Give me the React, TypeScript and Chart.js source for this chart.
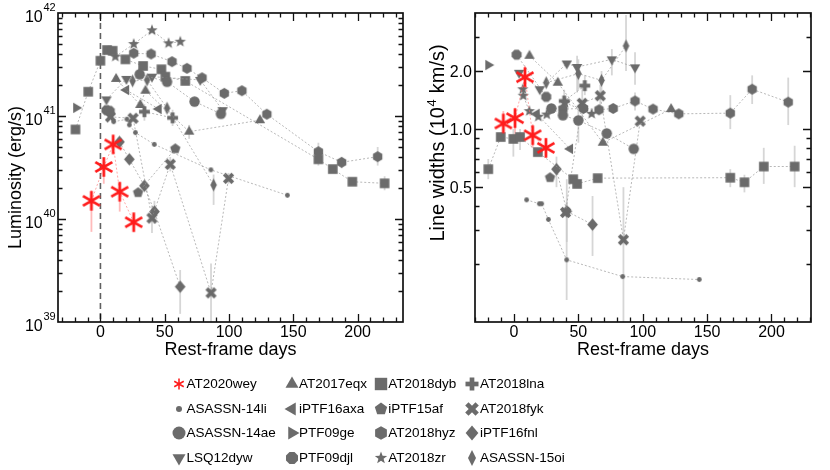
import Chart from "chart.js/auto";
import { useEffect, useRef } from "react";

type Pt = [number, number];
type Err = [string, number, number, number];
type Shape =
  | "asterisk" | "dot" | "circle" | "triDown" | "triUp" | "triLeft" | "triRight" | "octagon"
  | "square" | "pentagon" | "hexagon" | "star" | "plus" | "cross" | "diamond" | "thinDiamond";

const FONT = '"Liberation Sans", Arial, Helvetica, sans-serif';
const MARK = "#6b6b6b";
const RED = "#ff1c1c";

// ---- luminosity (erg/s) vs rest-frame days ----
const L_AT2020wey: Pt[] = [[-7, 1.5e40], [2.6, 3.2e40], [9.9, 5.3e40], [15, 1.84e40], [25.9, 9.3e39]];
const L_ASASSN14li: Pt[] = [[10.3, 8.8e40], [20.6, 9.3e40], [22.5, 8.2e40], [27.2, 6.9e40], [41.9, 5.3e40], [85.9, 3.0e40], [145.4, 1.7e40]];
const L_ASASSN14ae: Pt[] = [[30.5, 2.54e41], [51.8, 2.15e41], [73.2, 1.38e41], [93.7, 1.05e41]];
const L_LSQ12dyw: Pt[] = [[4.7, 1.45e41], [20.2, 2.29e41], [40.1, 2.41e41], [77.6, 2.24e41], [95, 1.14e41]];
const L_AT2017eqx: Pt[] = [[12.2, 2.29e41], [31, 1.28e41], [35, 1.76e41], [69, 7.05e40], [124, 9.1e40]];
const L_iPTF16axa: Pt[] = [[20, 1.79e41], [45.3, 1.17e41]];
const L_PTF09ge: Pt[] = [[-18.9, 1.2e41]];
const L_PTF09djl: Pt[] = [[4.7, 1.14e41], [7.2, 1.12e41]];
const L_AT2018dyb: Pt[] = [[-19.4, 7.4e40], [-9.5, 1.72e41], [0, 3.44e41], [5.2, 4.37e41], [9.5, 4.3e41], [19.4, 3.55e41], [33.2, 3.06e41], [47.4, 2.84e41], [50.5, 2.41e41], [66, 2.19e41], [169.5, 3.8e40], [180.7, 3.05e40], [195.9, 2.3e40], [221, 2.22e40]];
const L_iPTF15af: Pt[] = [[29.3, 1.8e40], [58.2, 4.8e40]];
const L_AT2018hyz: Pt[] = [[25.9, 4.07e41], [39.4, 4.0e41], [55.7, 3.37e41], [67.3, 2.9e41], [79, 2.35e41], [96.3, 1.66e41], [110, 1.76e41], [129.4, 1.04e41], [169.5, 4.5e40], [187.6, 3.55e40], [215.6, 4.03e40]];
const L_AT2018zr: Pt[] = [[11.6, 3.77e41], [25.9, 5.0e41], [40.1, 6.8e41], [53, 5.08e41], [62.1, 5.26e41]];
const L_AT2018lna: Pt[] = [[34.2, 1.1e41], [56.1, 9.6e40]];
const L_AT2018fyk: Pt[] = [[7.8, 9.8e40], [25.4, 9.5e40], [40.1, 1.02e40], [54.3, 3.4e40], [86, 1.92e39], [99.6, 2.48e40]];
const L_iPTF16fnl: Pt[] = [[14.8, 5.6e40], [22.5, 3.8e40], [34.2, 2.1e40], [42, 1.18e40], [62, 2.2e39]];
const L_ASASSN15oi: Pt[] = [[25, 2.19e41], [36.3, 2.24e41], [51.8, 1.19e41], [88, 2.14e40]];

// [name, day, low, high]
const lumErrors: Err[] = [
  ["AT2020wey", -7, 7.5e39, 1.9e40], ["AT2020wey", 2.6, 2.2e40, 4.0e40], ["AT2020wey", 9.9, 4.6e40, 6.0e40],
  ["AT2020wey", 15, 1.18e40, 2.3e40], ["AT2020wey", 25.9, 7.6e39, 1.1e40],
  ["iPTF16fnl", 62, 1.2e39, 3.2e39], ["iPTF16fnl", 42, 9e39, 1.5e40],
  ["AT2018fyk", 86, 1e39, 3.7e39], ["AT2018fyk", 40.1, 7.3e39, 1.35e40], ["AT2018fyk", 54.3, 2.9e40, 4e40], ["AT2018fyk", 99.6, 2.2e40, 2.8e40],
  ["ASASSN-15oi", 88, 1.37e40, 2.7e40],
  ["AT2018lna", 34.2, 9e40, 1.3e41], ["AT2018lna", 56.1, 8e40, 1.15e41],
  ["AT2017eqx", 69, 6e40, 8.2e40],
  ["AT2018hyz", 169.5, 3.8e40, 5.5e40], ["AT2018hyz", 187.6, 3.1e40, 4.0e40], ["AT2018hyz", 215.6, 3.3e40, 5e40],
  ["AT2018dyb", 169.5, 3.3e40, 4.4e40], ["AT2018dyb", 221, 1.9e40, 2.6e40],
];

// ---- line widths (10^4 km/s) vs rest-frame days ----
const V_AT2020wey: Pt[] = [[-8.3, 1.07], [0.8, 1.14], [8.5, 1.86], [14.5, 0.93], [24.8, 0.8]];
const V_ASASSN14li: Pt[] = [[9.8, 0.43], [19.7, 0.41], [21.5, 0.41], [26.7, 0.34], [40.9, 0.21], [84.4, 0.172], [143.9, 0.166]];
const V_ASASSN14ae: Pt[] = [[29, 1.28], [38, 1.18], [50, 1.11], [72, 0.95], [93, 0.79]];
const V_LSQ12dyw: Pt[] = [[4, 1.96], [20, 1.61], [41, 2.19], [49, 2.1], [76, 2.3], [94, 2.09]];
const V_AT2017eqx: Pt[] = [[12, 2.4], [34, 1.74], [69, 0.85], [122, 1.27]];
const V_iPTF16axa: Pt[] = [[17.6, 1.2], [43.5, 0.79]];
const V_PTF09ge: Pt[] = [[-20, 2.15]];
const V_PTF09djl: Pt[] = [[2, 2.43], [25, 1.47]];
const V_AT2018dyb: Pt[] = [[-20, 0.62], [-10.3, 0.91], [-0.5, 0.89], [4.7, 0.91], [18.5, 0.76], [46, 0.55], [49, 0.52], [65, 0.557], [168, 0.56], [179, 0.53], [194, 0.64], [218, 0.64]];
const V_iPTF15af: Pt[] = [[28, 0.56]];
const V_AT2018hyz: Pt[] = [[38, 1.27], [54, 1.28], [66, 1.26], [77, 1.28], [94, 1.4], [108, 1.27], [128, 1.2], [168, 1.21], [185, 1.61], [213, 1.38]];
const V_AT2018zr: Pt[] = [[6.8, 1.61], [7.2, 1.49], [11.9, 1.24], [18.9, 1.16], [25.4, 1.19], [39.6, 1.37], [60.3, 1.2]];
const V_AT2018lna: Pt[] = [[39, 1.4], [55, 1.68]];
const V_AT2018fyk: Pt[] = [[40, 0.37], [53, 1.36], [67, 1.49], [85, 0.267], [98, 1.1]];
const V_iPTF16fnl: Pt[] = [[33, 0.62], [41, 0.375], [61, 0.32]];
const V_ASASSN15oi: Pt[] = [[25, 1.74], [50, 1.94], [68, 1.79], [87, 2.7]];

const velErrors: Err[] = [
  ["AT2020wey", -8.3, 0.87, 1.24], ["AT2020wey", 0.8, 0.89, 1.29], ["AT2020wey", 8.5, 1.62, 2.13],
  ["AT2020wey", 14.5, 0.8, 1.06], ["AT2020wey", 24.8, 0.71, 0.9],
  ["ASASSN-14li", 40.9, 0.13, 0.42], ["AT2018fyk", 85, 0.1, 0.5], ["AT2018fyk", 53, 1.1, 1.7], ["AT2018fyk", 67, 1.3, 1.7],
  ["iPTF16fnl", 61, 0.22, 0.45], ["iPTF16fnl", 41, 0.26, 0.55], ["iPTF16fnl", 33, 0.5, 0.72],
  ["ASASSN-15oi", 87, 2.0, 3.9], ["ASASSN-15oi", 50, 1.6, 2.3], ["ASASSN-15oi", 68, 1.55, 2.0],
  ["LSQ12dyw", 94, 1.7, 2.5], ["LSQ12dyw", 76, 1.9, 2.6], ["LSQ12dyw", 49, 1.55, 2.4],
  ["AT2018hyz", 168, 1.0, 1.5], ["AT2018hyz", 185, 1.35, 1.9], ["AT2018hyz", 213, 1.05, 1.85], ["AT2018hyz", 94, 1.25, 1.55],
  ["AT2018dyb", 194, 0.52, 0.8], ["AT2018dyb", 218, 0.5, 0.82], ["AT2018dyb", -20, 0.55, 0.7],
  ["AT2018dyb", 168, 0.5, 0.62], ["AT2018dyb", 179, 0.47, 0.58], ["AT2018dyb", -0.5, 0.72, 1.0], ["AT2018dyb", 4.7, 0.78, 1.0],
  ["ASASSN-14ae", 50, 0.85, 1.3], ["AT2018lna", 39, 1.2, 1.6], ["AT2018lna", 55, 1.5, 1.9],
];

// ticks
const dayTicks = [0, 50, 100, 150, 200];
const lumExponents = [39, 40, 41, 42];
const velTickValues = [0.5, 1, 2];
const velTickLabels = ["0.5", "1.0", "2.0"];
const velMinorTicks = [0.2, 0.3, 0.4, 0.6, 0.7, 0.8, 0.9, 3];

const SERIES: { name: string; shape: Shape; lum: Pt[]; vel: Pt[] }[] = [
  { name: "AT2020wey", shape: "asterisk", lum: L_AT2020wey, vel: V_AT2020wey },
  { name: "ASASSN-14li", shape: "dot", lum: L_ASASSN14li, vel: V_ASASSN14li },
  { name: "ASASSN-14ae", shape: "circle", lum: L_ASASSN14ae, vel: V_ASASSN14ae },
  { name: "LSQ12dyw", shape: "triDown", lum: L_LSQ12dyw, vel: V_LSQ12dyw },
  { name: "AT2017eqx", shape: "triUp", lum: L_AT2017eqx, vel: V_AT2017eqx },
  { name: "iPTF16axa", shape: "triLeft", lum: L_iPTF16axa, vel: V_iPTF16axa },
  { name: "PTF09ge", shape: "triRight", lum: L_PTF09ge, vel: V_PTF09ge },
  { name: "PTF09djl", shape: "octagon", lum: L_PTF09djl, vel: V_PTF09djl },
  { name: "AT2018dyb", shape: "square", lum: L_AT2018dyb, vel: V_AT2018dyb },
  { name: "iPTF15af", shape: "pentagon", lum: L_iPTF15af, vel: V_iPTF15af },
  { name: "AT2018hyz", shape: "hexagon", lum: L_AT2018hyz, vel: V_AT2018hyz },
  { name: "AT2018zr", shape: "star", lum: L_AT2018zr, vel: V_AT2018zr },
  { name: "AT2018lna", shape: "plus", lum: L_AT2018lna, vel: V_AT2018lna },
  { name: "AT2018fyk", shape: "cross", lum: L_AT2018fyk, vel: V_AT2018fyk },
  { name: "iPTF16fnl", shape: "diamond", lum: L_iPTF16fnl, vel: V_iPTF16fnl },
  { name: "ASASSN-15oi", shape: "thinDiamond", lum: L_ASASSN15oi, vel: V_ASASSN15oi },
];

const CHART_R: Record<Shape, number> = {
  asterisk: 9.8, dot: 2.4, circle: 5.2, triDown: 6, triUp: 6, triLeft: 6, triRight: 6, octagon: 5.4,
  square: 4.8, pentagon: 5.4, hexagon: 5.4, star: 6, plus: 5.4, cross: 5.4, diamond: 6.3, thinDiamond: 6.5,
};
const LEGEND_R: Record<Shape, number> = {
  asterisk: 5.5, dot: 3, circle: 6.5, triDown: 7.5, triUp: 7.5, triLeft: 7.5, triRight: 7.5, octagon: 6.5,
  square: 6.2, pentagon: 6.5, hexagon: 6.8, star: 6.5, plus: 6.5, cross: 6.5, diamond: 7.5, thinDiamond: 8,
};

function polygon(ctx: CanvasRenderingContext2D, cx: number, cy: number, r: number, n: number, rot: number) {
  ctx.beginPath();
  for (let i = 0; i < n; i++) {
    const a = rot + (i * 2 * Math.PI) / n;
    const x = cx + r * Math.cos(a);
    const y = cy + r * Math.sin(a);
    if (i) ctx.lineTo(x, y);
    else ctx.moveTo(x, y);
  }
  ctx.closePath();
  ctx.fill();
}

function drawShape(ctx: CanvasRenderingContext2D, shape: Shape, cx: number, cy: number, r: number) {
  ctx.fillStyle = MARK;
  ctx.strokeStyle = MARK;
  switch (shape) {
    case "asterisk": {
      ctx.strokeStyle = RED;
      ctx.lineWidth = Math.max(1.5, r * 0.28);
      ctx.beginPath();
      for (const deg of [90, 30, 150]) {
        const a = (deg * Math.PI) / 180;
        ctx.moveTo(cx - r * Math.cos(a), cy - r * Math.sin(a));
        ctx.lineTo(cx + r * Math.cos(a), cy + r * Math.sin(a));
      }
      ctx.stroke();
      break;
    }
    case "dot":
    case "circle":
      ctx.beginPath();
      ctx.arc(cx, cy, r, 0, Math.PI * 2);
      ctx.fill();
      break;
    case "triUp":
      polygon(ctx, cx, cy, r, 3, -Math.PI / 2);
      break;
    case "triDown":
      polygon(ctx, cx, cy, r, 3, Math.PI / 2);
      break;
    case "triLeft":
      polygon(ctx, cx, cy, r, 3, Math.PI);
      break;
    case "triRight":
      polygon(ctx, cx, cy, r, 3, 0);
      break;
    case "octagon":
      polygon(ctx, cx, cy, r, 8, Math.PI / 8);
      break;
    case "square":
      ctx.fillRect(cx - r, cy - r, 2 * r, 2 * r);
      break;
    case "pentagon":
      polygon(ctx, cx, cy, r, 5, -Math.PI / 2);
      break;
    case "hexagon":
      polygon(ctx, cx, cy, r, 6, -Math.PI / 2);
      break;
    case "star": {
      ctx.beginPath();
      for (let i = 0; i < 10; i++) {
        const a = -Math.PI / 2 + (i * Math.PI) / 5;
        const rr = i % 2 ? r * 0.42 : r;
        const x = cx + rr * Math.cos(a);
        const y = cy + rr * Math.sin(a);
        if (i) ctx.lineTo(x, y);
        else ctx.moveTo(x, y);
      }
      ctx.closePath();
      ctx.fill();
      break;
    }
    case "plus":
    case "cross": {
      const t = r * 0.72;
      ctx.save();
      ctx.translate(cx, cy);
      if (shape === "cross") ctx.rotate(Math.PI / 4);
      const rr = shape === "cross" ? r * 1.12 : r;
      ctx.fillRect(-rr, -t / 2, 2 * rr, t);
      ctx.fillRect(-t / 2, -rr, t, 2 * rr);
      ctx.restore();
      break;
    }
    case "diamond":
    case "thinDiamond": {
      const w = shape === "diamond" ? r * 0.85 : r * 0.5;
      ctx.beginPath();
      ctx.moveTo(cx, cy - r);
      ctx.lineTo(cx + w, cy);
      ctx.lineTo(cx, cy + r);
      ctx.lineTo(cx - w, cy);
      ctx.closePath();
      ctx.fill();
      break;
    }
  }
}

const markerCache = new Map<string, HTMLCanvasElement>();
function markerCanvas(shape: Shape, r: number) {
  const key = shape + r;
  const hit = markerCache.get(key);
  if (hit) return hit;
  const size = Math.ceil(r * 2 + 4);
  const c = document.createElement("canvas");
  c.width = size;
  c.height = size;
  drawShape(c.getContext("2d")!, shape, size / 2, size / 2, r);
  markerCache.set(key, c);
  return c;
}

type PanelCfg = {
  key: "lum" | "vel";
  left: number;
  padding: { left: number; right: number; top: number; bottom: number };
  xMin: number;
  xMax: number;
  yMin: number;
  yMax: number;
  errors: Err[];
};

const W = 415;
const H = 365;

const LUM_PANEL: PanelCfg = {
  key: "lum", left: 0, padding: { left: 58, right: 12, top: 13, bottom: 43 },
  xMin: -33, xMax: 235.3, yMin: 1e39, yMax: 1e42, errors: lumErrors,
};
const VEL_PANEL: PanelCfg = {
  key: "vel", left: 415, padding: { left: 60, right: 19, top: 13, bottom: 43 },
  xMin: -30.3, xMax: 230.7, yMin: 0.1, yMax: 4, errors: velErrors,
};

function axesPlugin(cfg: PanelCfg) {
  return {
    id: "axesDecor",
    beforeDatasetsDraw(chart: Chart) {
      const { ctx, chartArea: a, scales } = chart;
      const xs = scales.x;
      const ys = scales.y;
      ctx.save();
      ctx.beginPath();
      ctx.rect(a.left, a.top, a.right - a.left, a.bottom - a.top);
      ctx.clip();
      for (const [name, day, lo, hi] of cfg.errors) {
        const x = xs.getPixelForValue(day);
        ctx.strokeStyle = name === "AT2020wey" ? "rgba(255,120,120,0.5)" : "rgba(200,200,200,0.75)";
        ctx.lineWidth = 1.8;
        ctx.beginPath();
        ctx.moveTo(x, ys.getPixelForValue(lo));
        ctx.lineTo(x, ys.getPixelForValue(hi));
        ctx.stroke();
      }
      if (cfg.key === "lum") {
        const x0 = xs.getPixelForValue(0);
        ctx.strokeStyle = "#606060";
        ctx.lineWidth = 1.6;
        ctx.setLineDash([6, 4]);
        ctx.beginPath();
        ctx.moveTo(x0, a.top);
        ctx.lineTo(x0, a.bottom);
        ctx.stroke();
      }
      ctx.restore();
    },
    afterDraw(chart: Chart) {
      const { ctx, chartArea: a, scales } = chart;
      const xs = scales.x;
      const ys = scales.y;
      ctx.save();
      ctx.strokeStyle = "#111";
      ctx.fillStyle = "#000";

      // inward ticks on all four sides
      ctx.lineWidth = 1.3;
      ctx.beginPath();
      for (let d = Math.ceil(cfg.xMin / 10) * 10; d < cfg.xMax; d += 10) {
        const x = Math.round(xs.getPixelForValue(d)) + 0.5;
        const len = d % 50 === 0 ? 8 : 4.5;
        ctx.moveTo(x, a.bottom);
        ctx.lineTo(x, a.bottom - len);
        ctx.moveTo(x, a.top);
        ctx.lineTo(x, a.top + len);
      }
      const yTicks: [number, boolean][] = [];
      if (cfg.key === "lum") {
        for (const e of lumExponents) {
          yTicks.push([10 ** e, true]);
          if (e < 42) for (let m = 2; m <= 9; m++) yTicks.push([m * 10 ** e, false]);
        }
      } else {
        velTickValues.forEach((v) => yTicks.push([v, true]));
        velMinorTicks.forEach((v) => yTicks.push([v, false]));
      }
      for (const [v, major] of yTicks) {
        if (v <= cfg.yMin || v >= cfg.yMax) continue;
        const y = Math.round(ys.getPixelForValue(v)) + 0.5;
        const len = major ? 8 : 4.5;
        ctx.moveTo(a.left, y);
        ctx.lineTo(a.left + len, y);
        ctx.moveTo(a.right, y);
        ctx.lineTo(a.right - len, y);
      }
      ctx.stroke();

      // frame
      ctx.lineWidth = 1.7;
      ctx.strokeRect(a.left, a.top, a.right - a.left, a.bottom - a.top);

      // x tick labels + title
      ctx.font = `16px ${FONT}`;
      ctx.textAlign = "center";
      ctx.textBaseline = "alphabetic";
      for (const d of dayTicks) ctx.fillText(String(d), xs.getPixelForValue(d), a.bottom + 14.7);
      ctx.font = `18px ${FONT}`;
      ctx.fillText("Rest-frame days", (a.left + a.right) / 2, a.bottom + 32.5);

      if (cfg.key === "lum") {
        for (const e of lumExponents) {
          const y = ys.getPixelForValue(10 ** e);
          ctx.font = `16px ${FONT}`;
          ctx.textAlign = "right";
          ctx.fillText("10", a.left - 15.3, y + 8.5);
          ctx.font = `11px ${FONT}`;
          ctx.textAlign = "left";
          ctx.fillText(String(e), a.left - 14.6, y - 2);
        }
        ctx.save();
        ctx.translate(21, (a.top + a.bottom) / 2 + 10);
        ctx.rotate(-Math.PI / 2);
        ctx.font = `18px ${FONT}`;
        ctx.textAlign = "center";
        ctx.fillText("Luminosity (erg/s)", 0, 0);
        ctx.restore();
      } else {
        ctx.font = `16px ${FONT}`;
        ctx.textAlign = "right";
        velTickValues.forEach((v, i) => ctx.fillText(velTickLabels[i], a.left - 3, ys.getPixelForValue(v) + 6));
        ctx.save();
        ctx.translate(a.left - 31, 143);
        ctx.rotate(-Math.PI / 2);
        ctx.textAlign = "left";
        const p1 = "Line widths (10";
        const p2 = "4";
        const p3 = " km/s)";
        ctx.font = `20px ${FONT}`;
        const w1 = ctx.measureText(p1).width;
        const w3 = ctx.measureText(p3).width;
        ctx.font = `13px ${FONT}`;
        const w2 = ctx.measureText(p2).width + 1;
        const x0 = -(w1 + w2 + w3) / 2;
        ctx.font = `20px ${FONT}`;
        ctx.fillText(p1, x0, 0);
        ctx.fillText(p3, x0 + w1 + w2, 0);
        ctx.font = `13px ${FONT}`;
        ctx.fillText(p2, x0 + w1 + 0.5, -8);
        ctx.restore();
      }
      ctx.restore();
    },
  };
}

function Panel({ cfg }: { cfg: PanelCfg }) {
  const canvasRef = useRef<HTMLCanvasElement | null>(null);

  useEffect(() => {
    if (!canvasRef.current) return;
    const datasets = SERIES.map((s) => {
      const pts = s[cfg.key];
      const isRed = s.name === "AT2020wey";
      return {
        label: s.name,
        data: pts.map(([x, y]) => ({ x, y })),
        showLine: true,
        borderColor: isRed ? "rgba(255,110,110,0.75)" : "rgba(150,150,150,0.85)",
        borderWidth: 0.8,
        borderDash: [2, 2],
        pointStyle: markerCanvas(s.shape, CHART_R[s.shape]),
        pointRadius: 5,
        pointHoverRadius: 5,
      };
    });
    const chart = new Chart(canvasRef.current, {
      type: "scatter",
      data: { datasets },
      plugins: [axesPlugin(cfg)],
      options: {
        animation: false,
        responsive: false,
        events: [],
        layout: { padding: cfg.padding },
        plugins: { legend: { display: false }, tooltip: { enabled: false } },
        scales: {
          x: { type: "linear", display: false, min: cfg.xMin, max: cfg.xMax },
          y: { type: "logarithmic", display: false, min: cfg.yMin, max: cfg.yMax },
        },
      } as any,
    });
    return () => chart.destroy();
  }, [cfg]);

  return (
    <canvas
      ref={canvasRef}
      width={W}
      height={H}
      style={{ position: "absolute", left: cfg.left, top: 0, width: W, height: H }}
    />
  );
}

const LEGEND_COLUMNS = [
  ["AT2020wey", "ASASSN-14li", "ASASSN-14ae", "LSQ12dyw"],
  ["AT2017eqx", "iPTF16axa", "PTF09ge", "PTF09djl"],
  ["AT2018dyb", "iPTF15af", "AT2018hyz", "AT2018zr"],
  ["AT2018lna", "AT2018fyk", "iPTF16fnl", "ASASSN-15oi"],
];
const legendRowY = [384, 408.7, 433.3, 458];
const legendMarkerX = [179.3, 291.7, 381, 471.7];
const legendTextX = [186.5, 299, 388.3, 480];

function LegendMarker({ shape, x, y }: { shape: Shape; x: number; y: number }) {
  const ref = useRef<HTMLCanvasElement | null>(null);
  useEffect(() => {
    const c = ref.current;
    if (!c) return;
    const ctx = c.getContext("2d")!;
    ctx.clearRect(0, 0, 20, 20);
    drawShape(ctx, shape, 10, 10, LEGEND_R[shape]);
  }, [shape]);
  return (
    <canvas ref={ref} width={20} height={20} style={{ position: "absolute", left: x - 10, top: y - 10, width: 20, height: 20 }} />
  );
}

export default function App() {
  return (
    <div style={{ position: "fixed", left: 0, top: 0, width: 830, height: 470, background: "#fff", overflow: "hidden" }}>
      <Panel cfg={LUM_PANEL} />
      <Panel cfg={VEL_PANEL} />
      {LEGEND_COLUMNS.map((col, ci) =>
        col.map((name, ri) => {
          const s = SERIES.find((q) => q.name === name)!;
          const y = legendRowY[ri];
          return (
            <div key={name}>
              <LegendMarker shape={s.shape} x={legendMarkerX[ci]} y={y} />
              <span
                style={{
                  position: "absolute",
                  left: legendTextX[ci],
                  top: y - 8,
                  font: `13.5px ${FONT}`,
                  lineHeight: "16px",
                  color: "#000",
                  whiteSpace: "nowrap",
                }}
              >
                {name}
              </span>
            </div>
          );
        })
      )}
    </div>
  );
}
